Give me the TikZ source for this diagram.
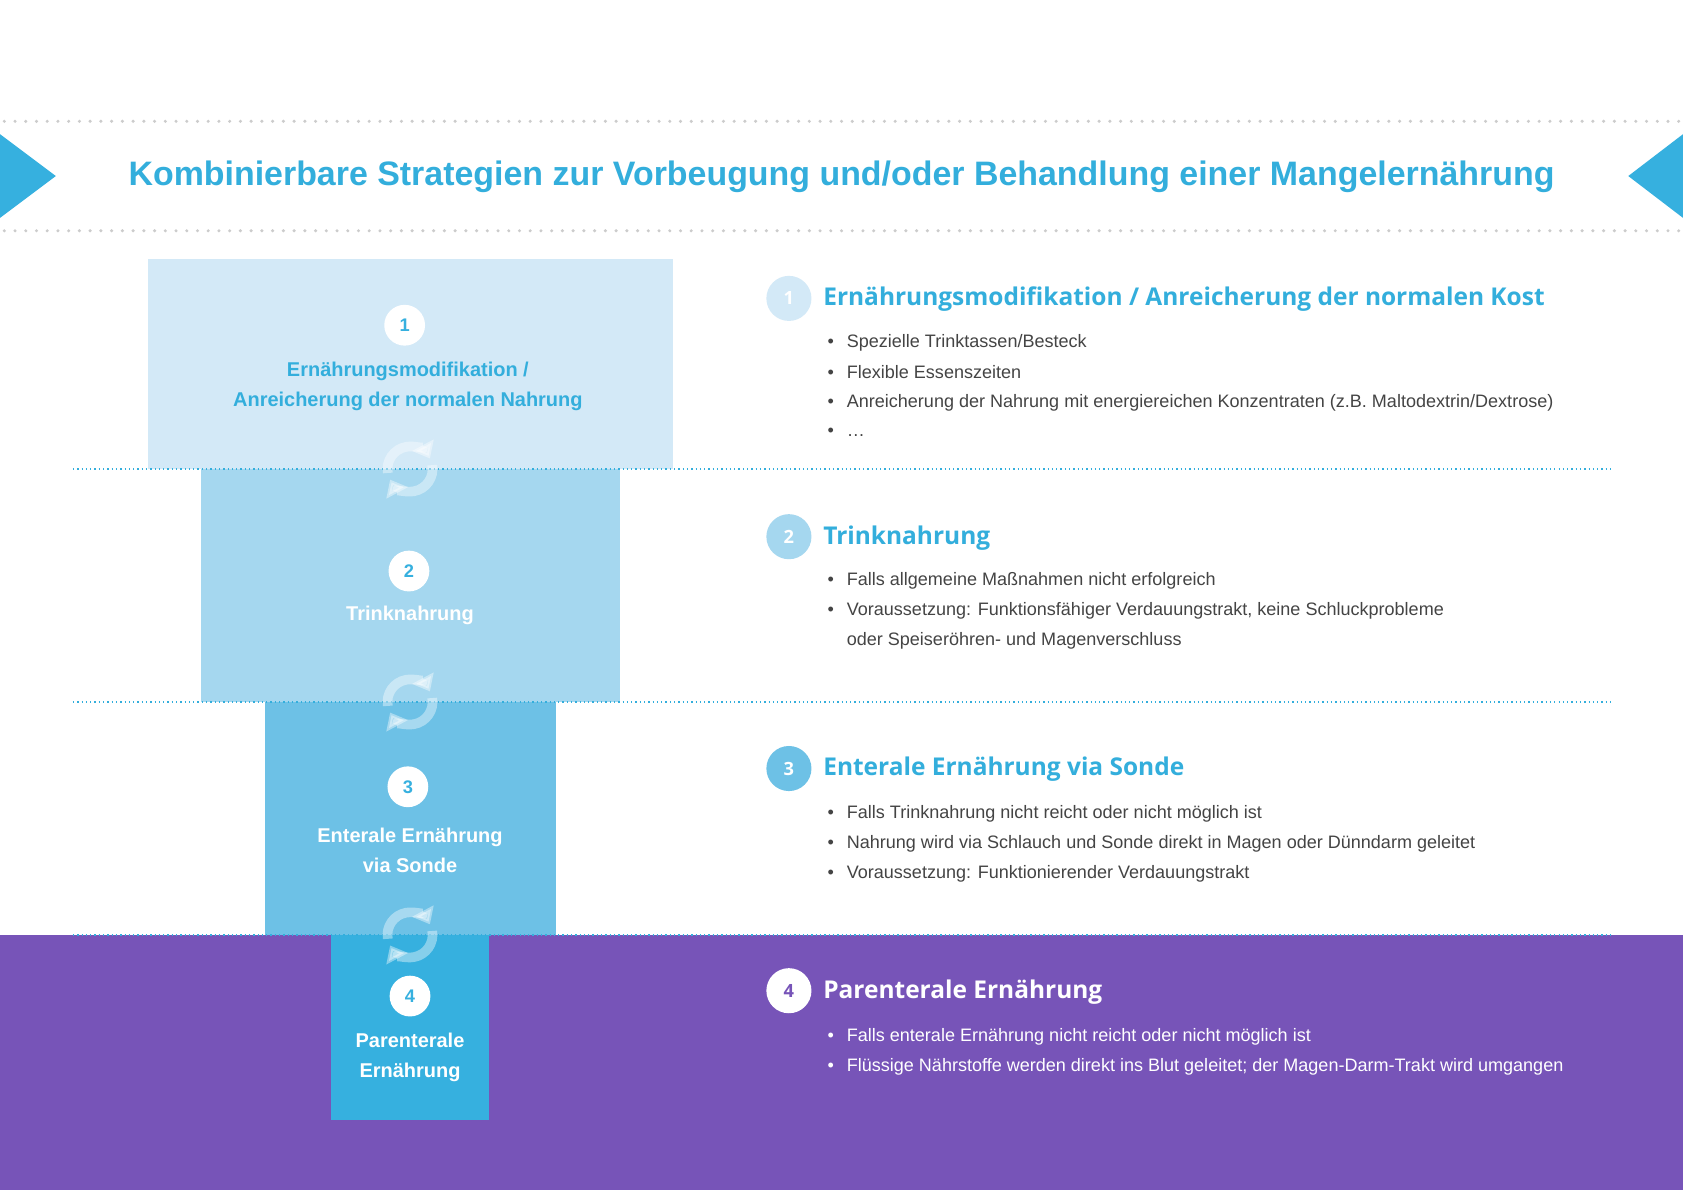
\documentclass[tikz,border=0pt]{standalone}
\usepackage{fontspec}
\setmainfont{Liberation Sans}
\newfontfamily\osans{Open Sans}
\usetikzlibrary{arrows.meta}
\definecolor{cA}{HTML}{D3E9F7}
\definecolor{cB}{HTML}{A5D7EF}
\definecolor{cC}{HTML}{6DC1E6}
\definecolor{cD}{HTML}{36B0DF}
\definecolor{ttl}{HTML}{33AEDC}
\definecolor{purp}{HTML}{7754B8}
\definecolor{txt}{HTML}{444444}
\definecolor{dotg}{HTML}{CCCCCC}
\begin{document}
\begin{tikzpicture}[x=0.5pt,y=-0.5pt,
  boxtxt/.style={font=\bfseries\fontsize{9.3}{14}\selectfont,align=center},
  num/.style={circle,fill=white,minimum size=19pt,inner sep=0pt,font=\bfseries\fontsize{8.5}{10}\selectfont},
  rnum/.style={circle,minimum size=21pt,inner sep=0pt,font=\osans\bfseries\fontsize{8.5}{10}\selectfont,text=white},
  head/.style={anchor=west,font=\osans\bfseries\fontsize{11.4}{14}\selectfont,text=ttl},
  bul/.style={anchor=west,font=\fontsize{8.4}{10}\selectfont,text=txt},
  sep/.style={ttl,line width=0.6pt,dash pattern=on 0.6pt off 1.4pt},
  gsep/.style={dotg,line width=1.6pt,line cap=round,dash pattern=on 0pt off 5pt},
  ricon/.style={white,opacity=0.4,line width=4.5pt,-{Triangle[length=7pt,width=11pt]}}]
\useasboundingbox (0,0) rectangle (1568,1109);
\fill[white] (0,0) rectangle (1568,1109);
% header
\draw[gsep] (4,113) -- (1568,113);
\draw[gsep] (4,215) -- (1568,215);
\fill[cD] (0,125) -- (52,164) -- (0,203) -- cycle;
\fill[cD] (1568,125) -- (1517,164) -- (1568,203) -- cycle;
\node[font=\bfseries\fontsize{15.8}{18}\selectfont,text=ttl] (title) at (784,165) {Kombinierbare Strategien zur Vorbeugung und/oder Behandlung einer Mangelernährung};
% bands
\fill[purp] (0,871) rectangle (1568,1109);
\fill[cA] (138,241) rectangle (627,437);
\fill[cB] (187,437) rectangle (578,654);
\fill[cC] (247,654) rectangle (518,871);
\fill[cD] (308,871) rectangle (456,1043);
\foreach \yy in {437,654,871} \draw[sep] (68,\yy) -- (1502,\yy);
% refresh icons
\foreach \yy in {437,654,871}{
  \begin{scope}[shift={(382,\yy)}]
    \draw[ricon] (-190:21) arc (-190:-28:21);
    \draw[ricon] (-10:21) arc (-10:152:21);
  \end{scope}}
% box labels
\node[num,text=cD] (n1) at (377,303) {1};
\node[boxtxt,text=ttl] (b1) at (380,360) {Ernährungsmodifikation /\\Anreicherung der normalen Nahrung};
\node[num,text=cD] (n2) at (381,532) {2};
\node[boxtxt,text=white] (b2) at (382,573) {Trinknahrung};
\node[num,text=cD] (n3) at (380,733) {3};
\node[boxtxt,text=white] (b3) at (382,792) {Enterale Ernährung\\via Sonde};
\node[num,text=cD] (n4) at (382,928) {4};
\node[boxtxt,text=white] (b4) at (382,985) {Parenterale\\Ernährung};
% right side
\node[rnum,fill=cA] (r1) at (735,278) {1};
\node[head] (h1) at (760,279) {Ernährungsmodifikation / Anreicherung der normalen Kost};
\node[bul] (p11) at (764,319) {•\hspace{6pt}Spezielle Trinktassen/Besteck};
\node[bul] (p12) at (764,347) {•\hspace{6pt}Flexible Essenszeiten};
\node[bul] (p13) at (764,375) {•\hspace{6pt}Anreicherung der Nahrung mit energiereichen Konzentraten (z.B. Maltodextrin/Dextrose)};
\node[bul] (p14) at (764,403) {•\hspace{6pt}…};
\node[rnum,fill=cB] (r2) at (735,500) {2};
\node[head] (h2) at (760,501) {Trinknahrung};
\node[bul] (p21) at (764,541) {•\hspace{6pt}Falls allgemeine Maßnahmen nicht erfolgreich};
\node[bul] (p22) at (764,569) {•\hspace{6pt}Voraussetzung: Funktionsfähiger Verdauungstrakt, keine Schluckprobleme};
\node[bul] (p23) at (764,597) {\phantom{•}\hspace{6pt}oder Speiseröhren- und Magenverschluss};
\node[rnum,fill=cC] (r3) at (735,716) {3};
\node[head] (h3) at (760,717) {Enterale Ernährung via Sonde};
\node[bul] (p31) at (764,758) {•\hspace{6pt}Falls Trinknahrung nicht reicht oder nicht möglich ist};
\node[bul] (p32) at (764,786) {•\hspace{6pt}Nahrung wird via Schlauch und Sonde direkt in Magen oder Dünndarm geleitet};
\node[bul] (p33) at (764,814) {•\hspace{6pt}Voraussetzung: Funktionierender Verdauungstrakt};
\node[rnum,fill=white,text=purp] (r4) at (735,923) {4};
\node[head,text=white] (h4) at (760,924) {Parenterale Ernährung};
\node[bul,text=white] (p41) at (764,966) {•\hspace{6pt}Falls enterale Ernährung nicht reicht oder nicht möglich ist};
\node[bul,text=white] (p42) at (764,994) {•\hspace{6pt}Flüssige Nährstoffe werden direkt ins Blut geleitet; der Magen-Darm-Trakt wird umgangen};
\end{tikzpicture}
\end{document}
